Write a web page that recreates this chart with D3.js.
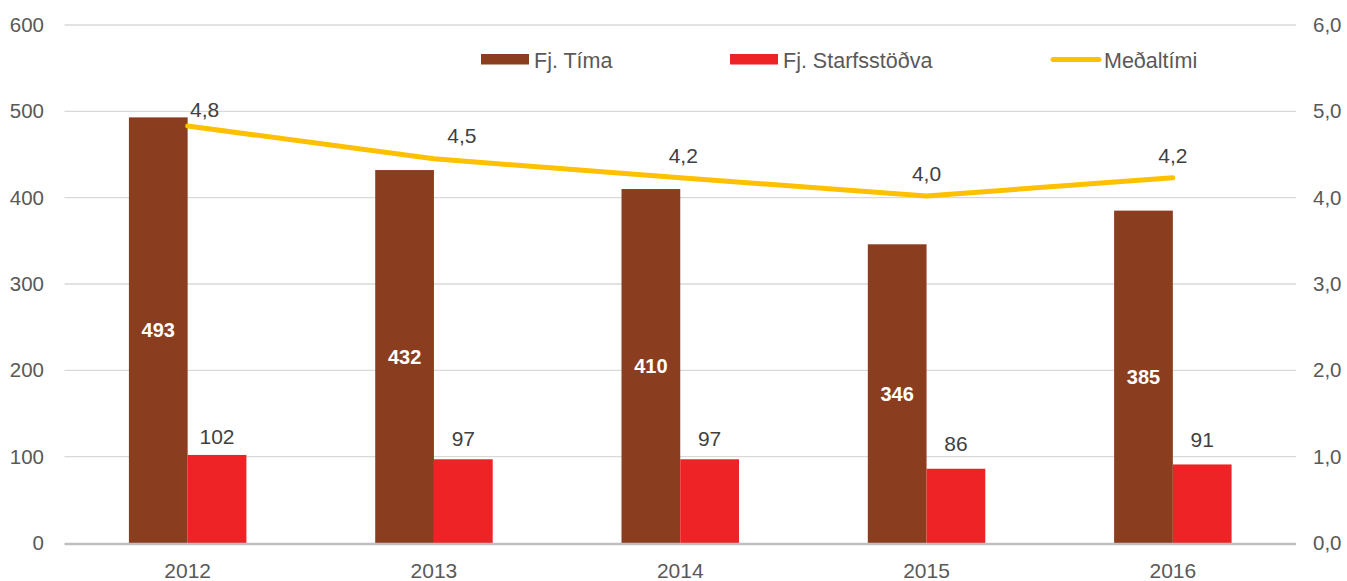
<!DOCTYPE html>
<html>
<head>
<meta charset="utf-8">
<script src="https://cdn.jsdelivr.net/npm/d3@7"></script>
<style>
  body { margin: 0; background: #fff; }
  svg { font-family: "Liberation Sans", Arial, sans-serif; }
</style>
</head>
<body>
<svg id="chart" width="1347" height="581"></svg>
<script>
const years = ['2012', '2013', '2014', '2015', '2016']
const timar = [493, 432, 410, 346, 385]
const stodvar = [102, 97, 97, 86, 91]
const medaltimi = [4.83, 4.45, 4.23, 4.02, 4.23]
const leftTicks = [0, 100, 200, 300, 400, 500, 600]
const rightTicks = [0, 1, 2, 3, 4, 5, 6]
const seriesNames = ['Fj. Tíma', 'Fj. Starfsstöðva', 'Meðaltími']

// label nudges (hand-moved in the original)
const lineLabelNudge = [[17, -9], [28, -16], [3, -15], [0, -15], [0, -15]]
const barLabelGap = [11, 13, 13, 18, 17]

const colors = { timar: '#8B3E1F', stodvar: '#EE2326', line: '#FFC000' }

const margin = { left: 64.5, right: 1296, top: 25, bottom: 543 }

const svg = d3.select('#chart')

const x0 = d3
    .scaleBand()
    .domain(years)
    .range([margin.left, margin.right])
    .paddingInner(0.523)
    .paddingOuter(0.2615)

const x1 = d3
    .scaleBand()
    .domain(['timar', 'stodvar'])
    .range([0, x0.bandwidth()])

const yLeft = d3.scaleLinear().domain([0, 600]).range([margin.bottom, margin.top])
const yRight = d3.scaleLinear().domain([0, 6]).range([margin.bottom, margin.top])

// gridlines
svg.append('g')
    .selectAll('line')
    .data(leftTicks.filter(d => d > 0))
    .join('line')
    .attr('x1', margin.left)
    .attr('x2', margin.right)
    .attr('y1', d => yLeft(d))
    .attr('y2', d => yLeft(d))
    .attr('stroke', '#D9D9D9')
    .attr('stroke-width', 1.3)

// left axis
const leftAxis = svg.append('g')
    .attr('transform', 'translate(44,0)')
    .call(d3.axisLeft(yLeft).tickValues(leftTicks).tickSize(0).tickPadding(0))
leftAxis.select('.domain').remove()
leftAxis.selectAll('text')
    .attr('fill', '#595959')
    .style('font-size', '20.5px')
    .style('font-family', '"Liberation Sans", Arial, sans-serif')

// right axis
const rightAxis = svg.append('g')
    .attr('transform', 'translate(1313,0)')
    .call(d3.axisRight(yRight).tickValues(rightTicks).tickSize(0).tickPadding(0)
        .tickFormat(d => d3.format('.1f')(d).replace('.', ',')))
rightAxis.select('.domain').remove()
rightAxis.selectAll('text')
    .attr('fill', '#595959')
    .style('font-size', '20.5px')
    .style('font-family', '"Liberation Sans", Arial, sans-serif')

// bars
const groups = svg.append('g')
    .selectAll('g')
    .data(years)
    .join('g')
    .attr('transform', d => `translate(${x0(d)},0)`)

groups.append('rect')
    .attr('x', x1('timar'))
    .attr('width', x1.bandwidth())
    .attr('y', (d, i) => yLeft(timar[i]))
    .attr('height', (d, i) => yLeft(0) - yLeft(timar[i]))
    .attr('fill', colors.timar)

groups.append('rect')
    .attr('x', x1('stodvar'))
    .attr('width', x1.bandwidth())
    .attr('y', (d, i) => yLeft(stodvar[i]))
    .attr('height', (d, i) => yLeft(0) - yLeft(stodvar[i]))
    .attr('fill', colors.stodvar)

// bar labels
groups.append('text')
    .attr('x', x1('timar') + x1.bandwidth() / 2)
    .attr('y', (d, i) => (yLeft(timar[i]) + yLeft(0)) / 2)
    .attr('dy', '0.35em')
    .attr('text-anchor', 'middle')
    .attr('fill', '#fff')
    .style('font-size', '20px')
    .style('font-weight', 'bold')
    .text((d, i) => timar[i])

groups.append('text')
    .attr('x', x1('stodvar') + x1.bandwidth() / 2)
    .attr('y', (d, i) => yLeft(stodvar[i]) - barLabelGap[i])
    .attr('text-anchor', 'middle')
    .attr('fill', '#404040')
    .style('font-size', '21px')
    .text((d, i) => stodvar[i])

// baseline
svg.append('line')
    .attr('x1', margin.left)
    .attr('x2', margin.right)
    .attr('y1', yLeft(0) + 1)
    .attr('y2', yLeft(0) + 1)
    .attr('stroke', '#BFBFBF')
    .attr('stroke-width', 2.5)

// x labels
svg.append('g')
    .selectAll('text')
    .data(years)
    .join('text')
    .attr('x', d => x0(d) + x0.bandwidth() / 2)
    .attr('y', 578)
    .attr('text-anchor', 'middle')
    .attr('fill', '#595959')
    .style('font-size', '21px')
    .text(d => d)

// average line
const lineX = d => x0(d) + x0.bandwidth() / 2
const line = d3.line()
    .x((d, i) => lineX(years[i]))
    .y(d => yRight(d))

svg.append('path')
    .datum(medaltimi)
    .attr('d', line)
    .attr('fill', 'none')
    .attr('stroke', colors.line)
    .attr('stroke-width', 5)
    .attr('stroke-linecap', 'round')
    .attr('stroke-linejoin', 'round')

svg.append('g')
    .selectAll('text')
    .data(medaltimi)
    .join('text')
    .attr('x', (d, i) => lineX(years[i]) + lineLabelNudge[i][0])
    .attr('y', (d, i) => yRight(d) + lineLabelNudge[i][1])
    .attr('text-anchor', 'middle')
    .attr('fill', '#404040')
    .style('font-size', '21px')
    .text(d => d3.format('.1f')(d).replace('.', ','))

// legend
const legend = svg.append('g')
const legendX = [481, 730, 1051]
legend.append('rect').attr('x', legendX[0]).attr('y', 54).attr('width', 48).attr('height', 10.5).attr('fill', colors.timar)
legend.append('rect').attr('x', legendX[1]).attr('y', 54).attr('width', 48).attr('height', 10.5).attr('fill', colors.stodvar)
legend.append('line').attr('x1', legendX[2] + 2).attr('x2', legendX[2] + 48).attr('y1', 59.5).attr('y2', 59.5)
    .attr('stroke', colors.line).attr('stroke-width', 5).attr('stroke-linecap', 'round')
legend.selectAll('text.lg')
    .data(seriesNames)
    .join('text')
    .attr('class', 'lg')
    .attr('x', (d, i) => legendX[i] + 53)
    .attr('y', 67.5)
    .attr('fill', '#595959')
    .style('font-size', '21.5px')
    .text(d => d)
</script>
</body>
</html>
